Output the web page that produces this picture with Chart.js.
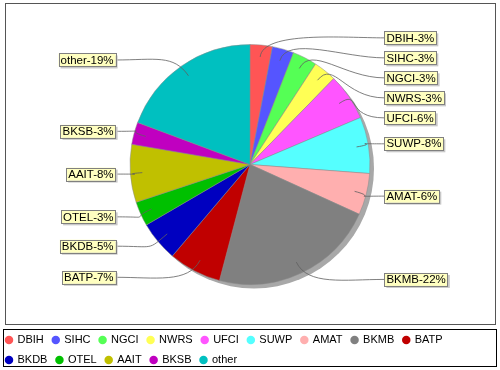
<!DOCTYPE html>
<html lang="en">
  <head>
    <meta charset="UTF-8" />
    <title>Share by code</title>
    <script src="https://cdn.jsdelivr.net/npm/chart.js"></script>
    <style>
      html, body { margin: 0; padding: 0; background: #ffffff; }
    </style>
  </head>
  <body>
    <canvas id="shareChart" width="500" height="370"></canvas>

    <script>
      // data
      const categories = ["DBIH", "SIHC", "NGCI", "NWRS", "UFCI", "SUWP", "AMAT",
        "BKMB", "BATP", "BKDB", "OTEL", "AAIT", "BKSB", "other"];
      const shares = [3.0, 2.9, 3.3, 3.1, 6.3, 7.6, 5.6, 22.3, 7.1, 5.4, 3.3, 7.8, 3.0, 19.3];
      const sliceColors = ["#ff5555", "#5555ff", "#55ff55", "#ffff55", "#ff55ff", "#55ffff",
        "#ffafaf", "#808080", "#c00000", "#0000c0", "#00c000", "#c0c000", "#c000c0", "#00c0c0"];

      const FONT = '"Liberation Sans", Arial, sans-serif';

      // grey drop shadow behind the pie
      const pieShadow = {
        id: "pieShadow",
        beforeDatasetsDraw(chart) {
          const arc = chart.getDatasetMeta(0).data[0];
          if (!arc) return;
          const ctx = chart.ctx;
          ctx.save();
          ctx.fillStyle = "#a8a8a8";
          ctx.beginPath();
          ctx.arc(arc.x + 4, arc.y + 4, arc.outerRadius, 0, Math.PI * 2);
          ctx.fill();
          ctx.restore();
        },
      };

      // legend rows wrap narrower than the canvas (after BATP)
      const legendWrap = {
        id: "legendWrap",
        afterLayout(chart) {
          const lg = chart.legend;
          if (lg) lg.right = lg.left + 490;
        },
      };

      // outer frame around the plot and the legend
      const frames = {
        id: "frames",
        afterDraw(chart) {
          const ctx = chart.ctx;
          const lg = chart.legend;
          ctx.save();
          ctx.strokeStyle = "#555555";
          ctx.lineWidth = 1;
          ctx.strokeRect(5.5, 3.5, 490, 321);
          ctx.strokeStyle = "#000000";
          ctx.strokeRect(3.5, Math.round(lg.top) + 3.5, 493, 37);
          ctx.restore();
        },
      };

      // yellow label boxes with curved leader lines
      const callouts = {
        id: "callouts",
        afterDatasetsDraw(chart) {
          const ctx = chart.ctx;
          const arcs = chart.getDatasetMeta(0).data;
          const total = shares.reduce((s, v) => s + v, 0);
          const cx = arcs[0].x, cy = arcs[0].y, r = arcs[0].outerRadius;
          ctx.save();
          ctx.font = "11.5px " + FONT;
          const items = arcs.map((arc, i) => {
            const mid = (arc.startAngle + arc.endAngle) / 2;
            return {
              text: categories[i] + "-" + Math.round((shares[i] / total) * 100) + "%",
              mid: mid,
              right: Math.cos(mid) >= 0,
              y: cy + Math.sin(mid) * r * 1.06,
            };
          });
          [true, false].forEach((side) => {
            const group = items.filter((it) => it.right === side).sort((p, q) => p.y - q.y);
            for (let k = 1; k < group.length; k++) {
              if (group[k].y - group[k - 1].y < 20) group[k].y = group[k - 1].y + 20;
            }
          });
          items.forEach((it) => {
            const w = ctx.measureText(it.text).width + 4;
            const h = 13;
            const bx = it.right ? cx + r * 1.12 : cx - r * 1.12 - w;
            const by = it.y - h / 2;
            const tx = it.right ? bx : bx + w;
            const ax = cx + Math.cos(it.mid) * r * 0.9;
            const ay = cy + Math.sin(it.mid) * r * 0.9;
            const c1x = cx + Math.cos(it.mid) * r * 1.12;
            const c1y = cy + Math.sin(it.mid) * r * 1.12;
            const c2x = it.right ? tx - 40 : tx + 40;
            ctx.strokeStyle = "#606060";
            ctx.lineWidth = 0.8;
            ctx.beginPath();
            ctx.moveTo(ax, ay);
            ctx.bezierCurveTo(c1x, c1y, c2x, it.y, tx, it.y);
            ctx.stroke();
            ctx.fillStyle = "#c8c8c8";
            ctx.fillRect(bx + 2, by + 2, w, h);
            ctx.fillStyle = "#ffffc0";
            ctx.fillRect(bx, by, w, h);
            ctx.strokeStyle = "#808080";
            ctx.lineWidth = 1;
            ctx.strokeRect(Math.round(bx) + 0.5, Math.round(by) + 0.5, Math.round(w), h);
            ctx.fillStyle = "#000000";
            ctx.textBaseline = "middle";
            ctx.textAlign = "left";
            ctx.fillText(it.text, bx + 2, it.y + 0.5);
          });
          ctx.restore();
        },
      };

      const ctx = document.getElementById("shareChart").getContext("2d");
      const chart = new Chart(ctx, {
        type: "pie",
        data: {
          labels: categories,
          datasets: [
            {
              data: shares,
              backgroundColor: sliceColors,
              borderColor: "#8a8a8a",
              borderWidth: 0.5,
              radius: 120,
            },
          ],
        },
        options: {
          responsive: false,
          animation: false,
          devicePixelRatio: 1,
          layout: { padding: { left: -3, right: -3, top: 3.5, bottom: -5.5 } },
          plugins: {
            tooltip: { enabled: false },
            legend: {
              position: "bottom",
              align: "start",
              labels: {
                usePointStyle: true,
                pointStyle: "circle",
                boxWidth: 6,
                boxHeight: 6,
                padding: 9,
                color: "#000000",
                font: { family: FONT, size: 11 },
                generateLabels(c) {
                  const items = Chart.overrides.pie.plugins.legend.labels.generateLabels(c);
                  items.forEach((it) => {
                    it.strokeStyle = it.fillStyle;
                    it.lineWidth = 0;
                  });
                  return items;
                },
              },
            },
          },
        },
        plugins: [pieShadow, legendWrap, callouts, frames],
      });
    </script>
  </body>
</html>
